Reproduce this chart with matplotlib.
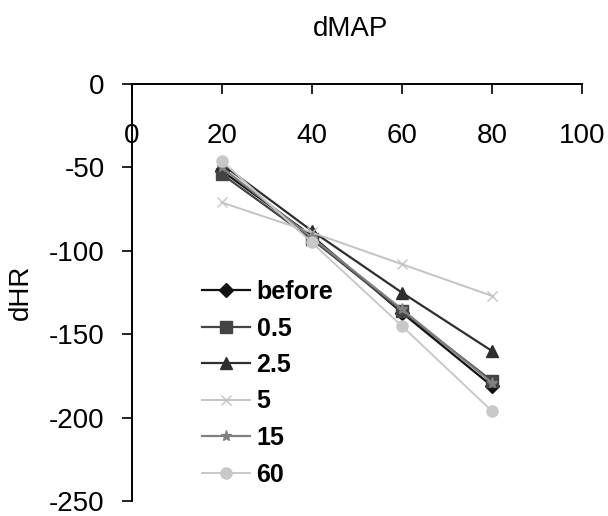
import numpy as np
import matplotlib
matplotlib.use("Agg")
import matplotlib.pyplot as plt
from matplotlib import font_manager

# dMAP values on x, dHR values per condition
dmap = [20, 40, 60, 80]
labels = ["before", "0.5", "2.5", "5", "15", "60"]
hr_before = [-52, -91, -137, -181]
hr_05 = [-54, -93, -136, -178]
hr_25 = [-48, -88, -125, -160]
hr_5 = [-71, -89, -108, -127]
hr_15 = [-50, -92, -135, -179]
hr_60 = [-46, -95, -145, -196]

series = [hr_before, hr_05, hr_25, hr_5, hr_15, hr_60]
colors = ["#111111", "#444444", "#2e2e2e", "#c4c4c4", "#808080", "#c8c8c8"]
markers = ["D", "s", "^", "x", "*", "o"]
msizes = [7, 8, 9, 7, 8, 8]
lw = [1.6, 1.6, 1.6, 1.4, 1.6, 1.4]

plt.rcParams["font.family"] = ["Liberation Sans", "DejaVu Sans"]
plt.rcParams["axes.unicode_minus"] = False

# narrow bold face for the legend if one is around
names = {f.name for f in font_manager.fontManager.ttflist}
leg_family = "Liberation Sans"
for cand in ["Liberation Sans Narrow", "DejaVu Sans Condensed"]:
    if cand in names:
        leg_family = cand
        break

fig = plt.figure(figsize=(6.08, 5.16), dpi=100)
ax = fig.add_axes([0.2166, 0.029, 0.7404, 0.8082])

for ys, lab, c, m, ms, w in zip(series, labels, colors, markers, msizes, lw):
    ax.plot(dmap, ys, color=c, marker=m, markersize=ms, lw=w,
            markeredgecolor=c, markerfacecolor=c, label=lab)

ax.set_xlim(0, 100)
ax.set_ylim(-250, 0)
ax.set_xticks([0, 20, 40, 60, 80, 100])
ax.set_yticks([0, -50, -100, -150, -200, -250])

ax.spines["right"].set_visible(False)
ax.spines["bottom"].set_visible(False)
ax.spines["top"].set_linewidth(1.4)
ax.spines["left"].set_linewidth(1.4)

ax.tick_params(axis="x", top=True, bottom=False, labeltop=True, labelbottom=False,
               direction="in", length=7.5, width=1.2, pad=-47, labelsize=20)
ax.tick_params(axis="y", direction="out", length=7.5, width=1.2, pad=12, labelsize=20)
for t in ax.get_xticklabels():
    t.set_verticalalignment("bottom")

ax.set_ylabel("dHR", fontsize=20, labelpad=11)
fig.text(0.576, 0.944, "dMAP", fontsize=20, ha="center", va="center")

leg_size = 20 if leg_family != "Liberation Sans" else 18
leg = ax.legend(loc="upper left", bbox_to_anchor=(202 / 608, 1 - 280 / 516),
                bbox_transform=fig.transFigure, frameon=False,
                prop={"family": leg_family, "weight": "bold", "size": leg_size},
                handlelength=1.9, handletextpad=0.28, labelspacing=0.5,
                borderpad=0, borderaxespad=0)

fig.savefig("out.png", dpi=100)
